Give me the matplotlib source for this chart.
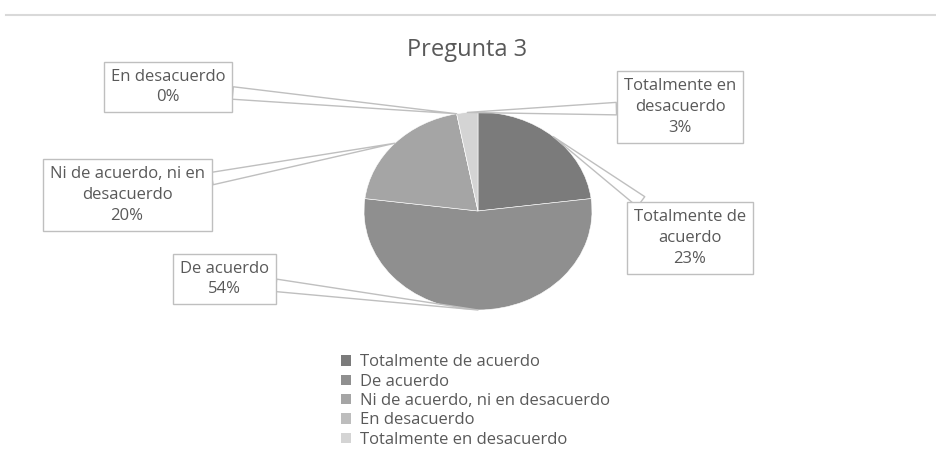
import numpy as np
import matplotlib.pyplot as plt
from matplotlib.patches import Patch
from matplotlib.lines import Line2D

plt.rcParams['font.family'] = ['Open Sans', 'DejaVu Sans']

categorias = ['Totalmente de acuerdo', 'De acuerdo', 'Ni de acuerdo, ni en desacuerdo',
              'En desacuerdo', 'Totalmente en desacuerdo']
etiquetas = ['Totalmente de\nacuerdo', 'De acuerdo', 'Ni de acuerdo, ni en\ndesacuerdo',
             'En desacuerdo', 'Totalmente en\ndesacuerdo']
porcentajes = [23, 54, 20, 0, 3]
colores = ['#7b7b7b', '#8f8f8f', '#a5a5a5', '#bdbdbd', '#d4d4d4']

# where each label box sits (figure pixels, center)
pos_caja = [(690, 217), (224, 176), (127, 260), (168, 368), (680, 348)]

W, H = 937, 455
fig = plt.figure(figsize=(W / 100, H / 100), dpi=100)

# pie axes: ellipse centre (478, 211), radii 114 x 99 px
cx, cy, rx, ry = 478, 211, 114, 99
ax = fig.add_axes([(cx - rx) / W, (H - cy - ry) / H, 2 * rx / W, 2 * ry / H])
ax.pie(porcentajes, colors=colores, startangle=90, counterclock=False,
       wedgeprops=dict(edgecolor='white', linewidth=0.4))
ax.set_aspect('auto')
ax.set_xlim(-1, 1)
ax.set_ylim(-1, 1)
ax.axis('off')

total = sum(porcentajes)
ang = 90.0
for i, p in enumerate(porcentajes):
    frac = p / total * 360
    mid = np.deg2rad(ang - frac / 2)
    ang -= frac
    tip = (np.cos(mid), np.sin(mid))
    ax.annotate(f'{etiquetas[i]}\n{p}%', xy=tip, xytext=pos_caja[i],
                textcoords='figure pixels', ha='center', va='center',
                fontsize=12, color='#595959', linespacing=1.4,
                annotation_clip=False,
                bbox=dict(boxstyle='square,pad=0.42', fc='white', ec='#bfbfbf', lw=1),
                arrowprops=dict(arrowstyle='wedge,tail_width=0.75,shrink_factor=0.5',
                                fc='white', ec='#bfbfbf', lw=1, shrinkA=0, shrinkB=0))

fig.text(467 / W, 1 - 50 / H, 'Pregunta 3', ha='center', va='center',
         fontsize=17, color='#595959')

# light frame line at top
fig.add_artist(Line2D([6 / W, 1], [1 - 15 / H, 1 - 15 / H], color='#d9d9d9', lw=1.5,
                      transform=fig.transFigure))

handles = [Patch(facecolor=c, edgecolor='none') for c in colores]
fig.legend(handles, categorias, loc='upper left', bbox_to_anchor=(333 / W, 1 - 346 / H),
           frameon=False, fontsize=12, labelcolor='#595959', handlelength=0.6,
           handleheight=0.6, handletextpad=0.5, labelspacing=0.2, borderpad=0)

fig.savefig('out.png', dpi=100)
